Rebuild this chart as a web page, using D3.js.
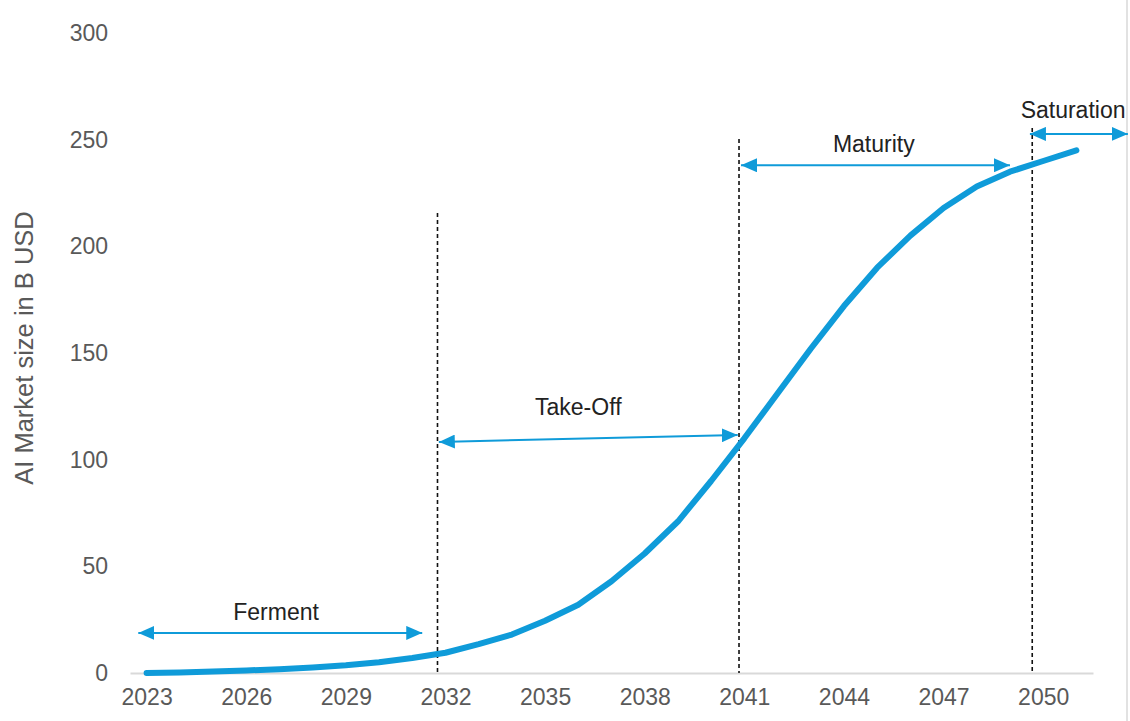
<!DOCTYPE html>
<html>
<head>
<meta charset="utf-8">
<script src="https://cdn.jsdelivr.net/npm/d3@7"></script>
<style>
  html, body { margin: 0; padding: 0; background: #fff; }
  svg { display: block; font-family: "Liberation Sans", Arial, sans-serif; }
</style>
</head>
<body>
<div id="chart"></div>
<script>
// Market size by year (B USD)
const years = d3.range(2023, 2052);
const marketSize = [0, 0.2, 0.7, 1.2, 1.8, 2.6, 3.6, 5, 7, 9.5, 13.5, 18, 24.5, 32, 43, 56, 71, 90,
  110, 131, 152, 172, 190, 205, 218, 228, 235, 240, 245];
const yearTicks = [2023, 2026, 2029, 2032, 2035, 2038, 2041, 2044, 2047, 2050];
const valueTicks = [0, 50, 100, 150, 200, 250, 300];

// Phase arrows: start/end year, arrow height at each end, label position
const phaseNames = ['Ferment', 'Take-Off', 'Maturity', 'Saturation'];
const phaseFrom = [2022.75, 2031.8, 2040.9, 2049.6];
const phaseTo = [2031.3, 2040.8, 2049.0, 2052.55];
const phaseY0 = [18.8, 108.3, 238, 252.7];
const phaseY1 = [18.8, 111.6, 238, 252.7];
const phaseLabelX = [2026.9, 2036.0, 2044.9, 2050.9];
const phaseLabelY = [24.8, 121, 244, 260];

// Dashed phase boundaries
const boundaryYears = [2031.76, 2040.84, 2049.67];
const boundaryTops = [215.6, 250.3, 255.5];

const width = 1130, height = 721;
const blue = '#0f9bd9';

const svg = d3.select('#chart').append('svg')
    .attr('width', width)
    .attr('height', height);

const x = d3.scaleLinear().domain([2022.5, 2051.5]).range([130, 1093]);
const y = d3.scaleLinear().domain([0, 300]).range([673, 33]);

// right border of the picture
svg.append('line')
    .attr('x1', 1127).attr('x2', 1127)
    .attr('y1', 0).attr('y2', height)
    .attr('stroke', '#d9d9d9').attr('stroke-width', 1.5);

// x axis
const xAxis = svg.append('g')
    .attr('transform', `translate(0,${y(0)})`)
    .call(d3.axisBottom(x).tickValues(yearTicks).tickFormat(d3.format('d'))
        .tickSize(0).tickSizeOuter(0).tickPadding(16));
xAxis.select('.domain').attr('stroke', '#d9d9d9').attr('stroke-width', 2);
xAxis.selectAll('text')
    .attr('fill', '#595959')
    .style('font-size', '23px')
    .style('font-family', '"Liberation Sans", Arial, sans-serif');

// y axis
const yAxis = svg.append('g')
    .attr('transform', `translate(${x.range()[0]},0)`)
    .call(d3.axisLeft(y).tickValues(valueTicks).tickSize(0).tickPadding(22));
yAxis.select('.domain').remove();
yAxis.selectAll('text')
    .attr('fill', '#595959')
    .style('font-size', '23px')
    .style('font-family', '"Liberation Sans", Arial, sans-serif');

// y title
svg.append('text')
    .attr('transform', `translate(33,348) rotate(-90)`)
    .attr('text-anchor', 'middle')
    .attr('fill', '#595959')
    .style('font-size', '25.5px')
    .text('AI Market size in B USD');

// dashed boundaries
svg.append('g')
    .selectAll('line')
    .data(boundaryYears)
    .enter()
    .append('line')
    .attr('x1', d => x(d)).attr('x2', d => x(d))
    .attr('y1', (d, i) => y(boundaryTops[i]))
    .attr('y2', y(0))
    .attr('stroke', '#111')
    .attr('stroke-width', 1.6)
    .attr('stroke-dasharray', '4,3');

// arrowhead markers
const defs = svg.append('defs');
['start', 'end'].forEach(kind => {
    defs.append('marker')
        .attr('id', 'arrow-' + kind)
        .attr('markerUnits', 'userSpaceOnUse')
        .attr('viewBox', '0 0 16 14')
        .attr('refX', kind === 'end' ? 16 : 0)
        .attr('refY', 7)
        .attr('markerWidth', 16)
        .attr('markerHeight', 14)
        .attr('orient', 'auto')
        .append('path')
        .attr('d', kind === 'end' ? 'M0,0 L16,7 L0,14 Z' : 'M16,0 L0,7 L16,14 Z')
        .attr('fill', blue);
});

// market curve
const line = d3.line()
    .x((d, i) => x(years[i]))
    .y(d => y(d));

svg.append('path')
    .datum(marketSize)
    .attr('d', line)
    .attr('fill', 'none')
    .attr('stroke', blue)
    .attr('stroke-width', 6)
    .attr('stroke-linejoin', 'round')
    .attr('stroke-linecap', 'round');

// phase arrows + labels
const phases = svg.append('g')
    .selectAll('g')
    .data(phaseNames)
    .enter()
    .append('g');

phases.append('line')
    .attr('x1', (d, i) => x(phaseFrom[i]))
    .attr('x2', (d, i) => x(phaseTo[i]))
    .attr('y1', (d, i) => y(phaseY0[i]))
    .attr('y2', (d, i) => y(phaseY1[i]))
    .attr('stroke', blue)
    .attr('stroke-width', 2)
    .attr('marker-start', 'url(#arrow-start)')
    .attr('marker-end', 'url(#arrow-end)');

phases.append('text')
    .attr('x', (d, i) => x(phaseLabelX[i]))
    .attr('y', (d, i) => y(phaseLabelY[i]))
    .attr('text-anchor', 'middle')
    .attr('fill', '#222')
    .style('font-size', '23px')
    .text(d => d);
</script>
</body>
</html>
